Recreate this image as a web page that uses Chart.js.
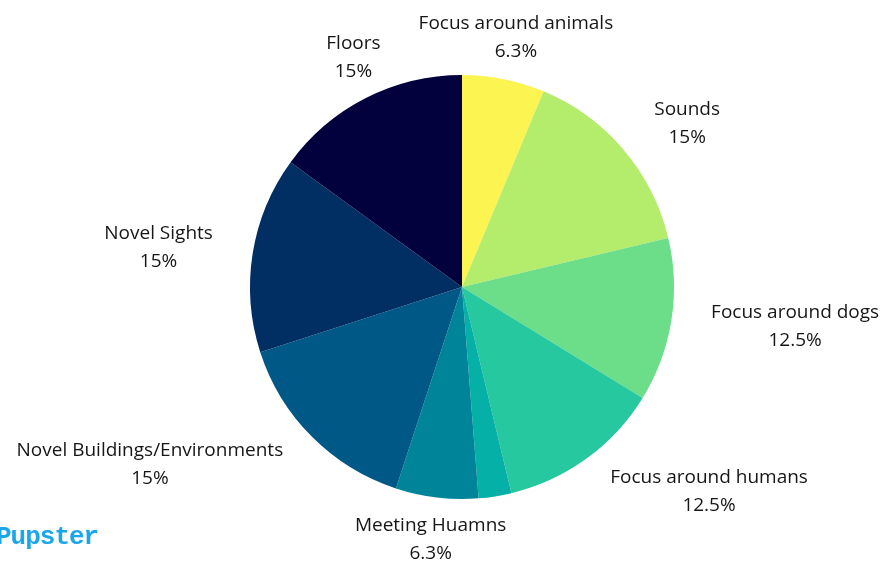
<!DOCTYPE html>
<html>
<head>
<meta charset="utf-8">
<script src="https://cdn.jsdelivr.net/npm/chart.js@4/dist/chart.umd.min.js"></script>
<style>
  html, body { margin: 0; padding: 0; background: #ffffff; }
  #wrap { position: relative; width: 891px; height: 562px; overflow: hidden; }
  #logo { position: absolute; left: -4px; top: 522px; font-family: "Liberation Mono", "DejaVu Sans Mono", monospace; font-weight: bold; font-size: 26px; color: #1ba6e9; letter-spacing: -1px; }
</style>
</head>
<body>
<div id="wrap">
  <canvas id="c" width="891" height="562"></canvas>
  <div id="logo">Pupster</div>
</div>
<script>
const categories = ["Focus around animals", "Sounds", "Focus around dogs", "Focus around humans", "", "Meeting Huamns", "Novel Buildings/Environments", "Novel Sights", "Floors"];
const shares = [6.3, 15, 12.5, 12.5, 2.5, 6.3, 15, 15, 15];
const colors = ["#fcf451", "#b4ec6b", "#6cdd88", "#26c8a0", "#05b0a7", "#00849a", "#005886", "#022f63", "#02003d"];

const FONT = '19px "Open Sans", Lato, sans-serif';
const LINE_H = 28;

const outsideLabels = {
  id: 'outsideLabels',
  afterDatasetsDraw(chart) {
    const ctx = chart.ctx;
    const meta = chart.getDatasetMeta(0);
    ctx.save();
    ctx.font = FONT;
    ctx.fillStyle = '#161616';
    ctx.textAlign = 'center';
    ctx.textBaseline = 'middle';
    meta.data.forEach((arc, i) => {
      const name = categories[i];
      if (!name) return;
      const lines = [name, shares[i] + '%'];
      const w = Math.max(...lines.map(l => ctx.measureText(l).width));
      const h = lines.length * LINE_H;
      const mid = (arc.startAngle + arc.endAngle) / 2;
      const ux = Math.cos(mid), uy = Math.sin(mid);
      const r = arc.outerRadius;
      let cx, cy;
      if (Math.abs(ux) > 0.5) {
        const D = r * 1.19;
        cx = arc.x + D * ux + Math.sign(ux) * w / 2;
        cy = arc.y + D * uy;
      } else {
        const D = r * 1.065;
        cx = arc.x + D * ux + ux * w / 4;
        cy = arc.y + D * uy + Math.sign(uy) * h / 2;
      }
      lines.forEach((l, k) => {
        ctx.fillText(l, cx, cy - h / 2 + LINE_H * (k + 0.5));
      });
    });
    ctx.restore();
  }
};

new Chart(document.getElementById('c'), {
  type: 'pie',
  data: {
    labels: categories,
    datasets: [{
      data: shares,
      backgroundColor: colors,
      borderWidth: 0,
      hoverOffset: 0
    }]
  },
  options: {
    responsive: false,
    animation: false,
    layout: { padding: { left: 250, right: 217, top: 75, bottom: 63 } },
    plugins: {
      legend: { display: false },
      tooltip: { enabled: false }
    }
  },
  plugins: [outsideLabels]
});
</script>
</body>
</html>
